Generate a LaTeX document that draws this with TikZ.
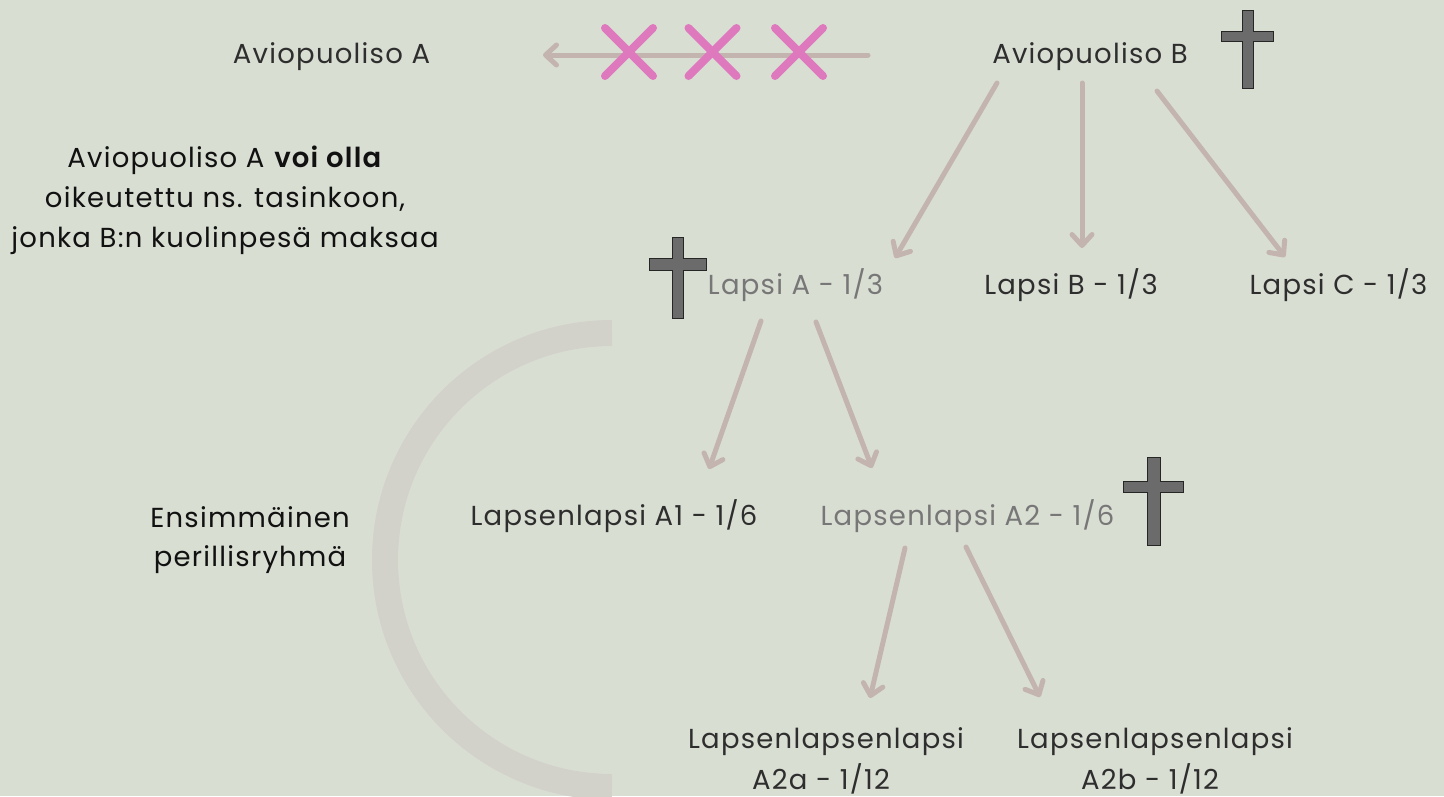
\documentclass[tikz,border=0pt]{standalone}
\usepackage{fontspec}
\setmainfont{Poppins}[LetterSpace=4.5,BoldFont={Poppins SemiBold}]
\usetikzlibrary{arrows.meta,calc}
\definecolor{bg}{HTML}{D9DED3}
\definecolor{txt}{HTML}{2E2E2E}
\definecolor{blk}{HTML}{111111}
\definecolor{gtxt}{HTML}{777777}
\definecolor{arr}{HTML}{C4B4AF}
\definecolor{pink}{HTML}{DE79BE}
\definecolor{arcc}{HTML}{D2D1CA}
\definecolor{crossf}{HTML}{6B6B6B}
\begin{document}
\begin{tikzpicture}[x=1pt,y=-1pt,
  every node/.style={inner sep=0pt,anchor=base,font=\fontsize{27.5}{33}\selectfont},
  lbl/.style={text=txt},
  dead/.style={text=gtxt},
  para/.style={text=blk},
  conn/.style={draw=arr,line width=5pt,line cap=round,line join=round,
    -{Straight Barb[length=11pt,width=20pt,line cap=round,line join=round]}},
  xmark/.style={draw=pink,line width=8pt,line cap=round},
  tomb/.style={fill=crossf,draw=black!85,line width=1pt,line join=miter}]
\useasboundingbox (0,0) rectangle (1444,796);
\fill[bg] (0,0) rectangle (1444,796);
% arc
\draw[arcc,line width=26pt] (612,787) arc[start angle=90,end angle=270,radius=227];
% labels
\node[lbl] (avA) at (331.5,63) {Aviopuoliso A};
\node[lbl] (avB) at (1090,63) {Aviopuoliso B};
\node[para] (p1) at (225,167) {Aviopuoliso A \textbf{voi olla}};
\node[para] (p2) at (225,207) {oikeutettu ns. tasinkoon,};
\node[para] (p3) at (225,247) {jonka B:n kuolinpesä maksaa};
\node[dead] (lA) at (795.5,294) {Lapsi A - 1/3};
\node[lbl] (lB) at (1071,294) {Lapsi B - 1/3};
\node[lbl] (lC) at (1338.5,294) {Lapsi C - 1/3};
\node[lbl] (g1) at (614,525) {Lapsenlapsi A1 - 1/6};
\node[dead] (g2) at (967.5,525) {Lapsenlapsi A2 - 1/6};
\node[para] (e1) at (250,527) {Ensimmäinen};
\node[para] (e2) at (250,566) {perillisryhmä};
\node[lbl] (ga1) at (826,748) {Lapsenlapsenlapsi};
\node[lbl] (ga2) at (821,789) {A2a - 1/12};
\node[lbl] (gb1) at (1155,748) {Lapsenlapsenlapsi};
\node[lbl] (gb2) at (1150,789) {A2b - 1/12};
% connectors
\draw[conn] ($(avB.base)+(-222,-8)$) -- ($(avA.base)+(211.5,-8)$);
\draw[conn] ($(avB.base)+(-93,20)$) -- ($(lA.base)+(99.5,-36)$);
\draw[conn] ($(avB.base)+(-8,20)$) -- ($(lB.base)+(11,-46)$);
\draw[conn] ($(avB.base)+(67,28)$) -- ($(lC.base)+(-53.5,-37)$);
\draw[conn] ($(lA.base)+(-34.5,27)$) -- ($(g1.base)+(95,-56)$);
\draw[conn] ($(lA.base)+(20.5,28)$) -- ($(g2.base)+(-95.5,-57)$);
\draw[conn] ($(g2.base)+(-62.5,23)$) -- ($(ga1.base)+(44,-50)$);
\draw[conn] ($(g2.base)+(-1.5,22)$) -- ($(gb1.base)+(-115,-51)$);
% pink crosses
\foreach \cx in {629,712.5,799}{
  \draw[xmark] (\cx-24,28) -- (\cx+24,76);
  \draw[xmark] (\cx-24,76) -- (\cx+24,28);
}
% grave crosses
\draw[tomb] (1242,10) -- (1253,10) -- (1253,31) -- (1273,31) -- (1273,41) -- (1253,41) -- (1253,88) -- (1242,88) -- (1242,41) -- (1221,41) -- (1221,31) -- (1242,31) -- cycle;
\draw[tomb] (672,237) -- (683,237) -- (683,258) -- (706,258) -- (706,270) -- (683,270) -- (683,318) -- (672,318) -- (672,270) -- (649,270) -- (649,258) -- (672,258) -- cycle;
\draw[tomb] (1147,457) -- (1160,457) -- (1160,481) -- (1183,481) -- (1183,492) -- (1160,492) -- (1160,545) -- (1147,545) -- (1147,492) -- (1123,492) -- (1123,481) -- (1147,481) -- cycle;
\end{tikzpicture}
\end{document}
